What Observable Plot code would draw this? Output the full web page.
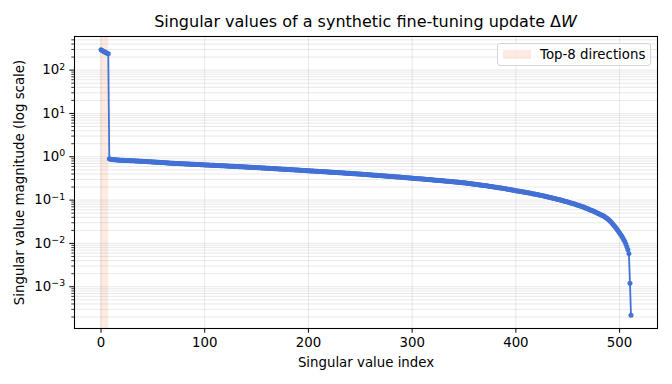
<!DOCTYPE html>
<html><head><meta charset="utf-8">
<script src="https://cdn.jsdelivr.net/npm/d3@7"></script>
<script src="https://cdn.jsdelivr.net/npm/@observablehq/plot@0.6"></script>
<style>
body{margin:0;background:#fff;font-family:"DejaVu Sans",sans-serif;}
#wrap{position:relative;width:672px;height:384px;overflow:hidden;}
#title{box-sizing:border-box;width:672px;height:30px;padding:14px 15px 0 74px;text-align:center;font-size:16px;line-height:16px;color:#000;white-space:nowrap;}
#legend{position:absolute;left:497px;top:43px;width:154px;height:23px;box-sizing:border-box;border:1px solid #d6d6d6;border-radius:3px;background:rgba(255,255,255,0.8);}
#legend .patch{position:absolute;left:5px;top:6px;width:28px;height:9px;}
#legend .lab{position:absolute;left:42px;top:0;line-height:21px;font-size:13.33px;color:#000;white-space:nowrap;}
</style></head>
<body>
<div id="wrap">
  <div id="title"></div>
  <div id="chart"></div>
  <div id="legend"><div class="patch"></div><div class="lab"></div></div>
</div>
<script>
// ---- data ----
const titleText = "Singular values of a synthetic fine-tuning update \u0394";
const titleItalic = "W";
const xLabel = "Singular value index";
const yLabel = "Singular value magnitude (log scale)";
const legendLabel = "Top-8 directions";
const topK = 8;
const xTickValues = [0, 100, 200, 300, 400, 500];
const yDecades = [-3, -2, -1, 0, 1, 2];

// singular value at index 0..511
const singularValues = [
  295, 283, 275, 266, 258, 251, 245, 238, 0.895, 0.880,
  0.870, 0.862, 0.857, 0.852, 0.848, 0.845, 0.842, 0.839, 0.836, 0.833,
  0.830, 0.828, 0.826, 0.824, 0.822, 0.820, 0.818, 0.816, 0.814, 0.812,
  0.810, 0.808, 0.806, 0.804, 0.801, 0.798, 0.796, 0.793, 0.790, 0.788,
  0.785, 0.782, 0.780, 0.777, 0.775, 0.772, 0.770, 0.767, 0.765, 0.762,
  0.760, 0.757, 0.755, 0.752, 0.749, 0.746, 0.744, 0.741, 0.738, 0.735,
  0.733, 0.730, 0.727, 0.724, 0.722, 0.719, 0.716, 0.713, 0.711, 0.708,
  0.705, 0.703, 0.700, 0.698, 0.696, 0.695, 0.693, 0.691, 0.689, 0.687,
  0.686, 0.684, 0.682, 0.680, 0.679, 0.677, 0.675, 0.673, 0.671, 0.670,
  0.668, 0.666, 0.664, 0.663, 0.661, 0.659, 0.657, 0.655, 0.654, 0.652,
  0.650, 0.648, 0.646, 0.645, 0.643, 0.641, 0.639, 0.638, 0.636, 0.634,
  0.632, 0.631, 0.629, 0.627, 0.625, 0.624, 0.622, 0.620, 0.618, 0.617,
  0.615, 0.613, 0.611, 0.610, 0.608, 0.606, 0.604, 0.603, 0.601, 0.599,
  0.597, 0.596, 0.594, 0.592, 0.590, 0.588, 0.587, 0.585, 0.583, 0.581,
  0.580, 0.578, 0.576, 0.574, 0.573, 0.571, 0.569, 0.567, 0.566, 0.564,
  0.562, 0.560, 0.559, 0.557, 0.555, 0.553, 0.552, 0.550, 0.548, 0.546,
  0.545, 0.543, 0.541, 0.539, 0.538, 0.536, 0.534, 0.532, 0.531, 0.529,
  0.527, 0.525, 0.524, 0.522, 0.520, 0.518, 0.517, 0.515, 0.513, 0.511,
  0.510, 0.508, 0.506, 0.504, 0.503, 0.501, 0.499, 0.497, 0.496, 0.494,
  0.492, 0.490, 0.489, 0.487, 0.485, 0.483, 0.482, 0.480, 0.478, 0.476,
  0.475, 0.473, 0.472, 0.470, 0.469, 0.467, 0.466, 0.464, 0.463, 0.461,
  0.460, 0.458, 0.456, 0.455, 0.453, 0.452, 0.450, 0.449, 0.447, 0.446,
  0.444, 0.442, 0.441, 0.439, 0.438, 0.436, 0.435, 0.433, 0.432, 0.430,
  0.429, 0.427, 0.425, 0.424, 0.422, 0.421, 0.419, 0.418, 0.416, 0.415,
  0.413, 0.411, 0.410, 0.408, 0.407, 0.405, 0.404, 0.402, 0.401, 0.399,
  0.398, 0.396, 0.394, 0.393, 0.391, 0.390, 0.388, 0.387, 0.385, 0.384,
  0.382, 0.380, 0.379, 0.377, 0.376, 0.374, 0.373, 0.371, 0.370, 0.368,
  0.367, 0.365, 0.363, 0.362, 0.360, 0.359, 0.357, 0.356, 0.354, 0.353,
  0.351, 0.349, 0.348, 0.346, 0.345, 0.343, 0.342, 0.340, 0.339, 0.337,
  0.336, 0.334, 0.332, 0.331, 0.329, 0.328, 0.326, 0.325, 0.323, 0.322,
  0.320, 0.319, 0.317, 0.316, 0.314, 0.313, 0.312, 0.310, 0.309, 0.307,
  0.306, 0.305, 0.303, 0.302, 0.300, 0.299, 0.298, 0.296, 0.295, 0.293,
  0.292, 0.291, 0.289, 0.288, 0.286, 0.285, 0.284, 0.282, 0.281, 0.279,
  0.278, 0.277, 0.275, 0.274, 0.272, 0.271, 0.270, 0.268, 0.267, 0.265,
  0.264, 0.263, 0.261, 0.260, 0.258, 0.257, 0.256, 0.254, 0.253, 0.251,
  0.250, 0.248, 0.247, 0.245, 0.243, 0.241, 0.240, 0.238, 0.236, 0.235,
  0.233, 0.231, 0.230, 0.228, 0.226, 0.224, 0.223, 0.221, 0.219, 0.218,
  0.216, 0.214, 0.213, 0.211, 0.209, 0.207, 0.206, 0.204, 0.202, 0.201,
  0.199, 0.197, 0.196, 0.194, 0.192, 0.190, 0.189, 0.187, 0.185, 0.184,
  0.182, 0.180, 0.179, 0.177, 0.175, 0.173, 0.172, 0.170, 0.168, 0.167,
  0.165, 0.163, 0.162, 0.160, 0.159, 0.157, 0.156, 0.154, 0.153, 0.151,
  0.150, 0.148, 0.147, 0.145, 0.144, 0.142, 0.141, 0.139, 0.138, 0.136,
  0.135, 0.133, 0.132, 0.130, 0.129, 0.127, 0.126, 0.124, 0.123, 0.121,
  0.120, 0.118, 0.117, 0.115, 0.114, 0.112, 0.111, 0.109, 0.108, 0.106,
  0.105, 0.103, 0.102, 0.100, 0.099, 0.097, 0.096, 0.094, 0.093, 0.091,
  0.090, 0.089, 0.087, 0.086, 0.084, 0.083, 0.082, 0.080, 0.079, 0.077,
  0.076, 0.075, 0.073, 0.072, 0.070, 0.069, 0.068, 0.066, 0.065, 0.063,
  0.062, 0.060, 0.059, 0.0577, 0.0564, 0.0551, 0.0538, 0.0525, 0.0512, 0.0499,
  0.0486, 0.0473, 0.0460, 0.0447, 0.0434, 0.0421, 0.0407, 0.0392, 0.0377, 0.0361,
  0.0344, 0.0326, 0.0308, 0.0289, 0.0271, 0.0253, 0.0236, 0.0220, 0.0204, 0.0189,
  0.0175, 0.0161, 0.0148, 0.0135, 0.0122, 0.0110, 0.0097, 0.0084, 0.0071, 0.0058,
  0.0012, 0.00022
];

// ---- styling ----
const lineColor = "#4371d5";
const spanColor = "#f07a3c";
const spanOpacity = 0.15;
const gridColor = "#b0b0b0";

// ---- build ----
const data = singularValues.map((s, i) => ({i, s}));
const spanData = [{x1: -0.5, x2: topK - 0.5}];

const n = singularValues.length;
const xPad = 0.05 * (n - 1);
const xDomain = [0 - xPad, (n - 1) + xPad];
const lmin = Math.log10(d3.min(singularValues));
const lmax = Math.log10(d3.max(singularValues));
const lPad = 0.05 * (lmax - lmin);
const yDomain = [Math.pow(10, lmin - lPad), Math.pow(10, lmax + lPad)];

const yMajors = yDecades.map(e => Math.pow(10, e));
const yMinors = [];
for (let e = -5; e <= 3; e++) for (let k = 2; k <= 9; k++) {
  const v = k * Math.pow(10, e);
  if (v >= yDomain[0] && v <= yDomain[1]) yMinors.push(v);
}
const yAllTicks = [...yMajors, ...yMinors];

document.getElementById("title").innerHTML = titleText + "<i>" + titleItalic + "</i>";
document.querySelector("#legend .lab").textContent = legendLabel;
const patch = document.querySelector("#legend .patch");
patch.style.background = spanColor;
patch.style.opacity = spanOpacity;

const svg = Plot.plot({
  width: 672,
  height: 354,
  marginTop: 6,
  marginBottom: 56,
  marginLeft: 74,
  marginRight: 15,
  style: {fontFamily: "DejaVu Sans", fontSize: "13.33px", color: "#000", background: "#fff", overflow: "visible"},
  x: {domain: xDomain},
  y: {type: "log", domain: yDomain},
  marks: [
    Plot.rect(spanData, {x1: "x1", x2: "x2", fill: spanColor, fillOpacity: spanOpacity}),
    Plot.gridY(yAllTicks, {stroke: gridColor, strokeOpacity: 0.35, strokeWidth: 0.8}),
    Plot.gridX(xTickValues, {stroke: gridColor, strokeOpacity: 0.35, strokeWidth: 0.8}),
    Plot.line(data, {x: "i", y: "s", stroke: lineColor, strokeWidth: 1.8}),
    Plot.dot(data, {x: "i", y: "s", r: 2.5, fill: lineColor, stroke: "none"}),
    Plot.frame({stroke: "#000", strokeWidth: 1.07}),
    Plot.axisX({ticks: xTickValues, tickSize: 4.7, tickPadding: 4.7, label: null, tickFormat: d3.format("d")}),
    Plot.axisY({ticks: yMajors, tickSize: 4.7, tickPadding: 4.7, label: null,
      tickFormat: d => "10^" + Math.round(Math.log10(d))}),
    Plot.axisY({ticks: yMinors, tickSize: 2.7, strokeWidth: 0.8, label: null, tickFormat: () => ""}),
    Plot.text([xLabel], {text: d => d, frameAnchor: "bottom", lineAnchor: "middle", textAnchor: "middle", dy: 34}),
    Plot.text([yLabel], {text: d => d, frameAnchor: "left", lineAnchor: "middle", textAnchor: "middle", rotate: -90, dx: -55})
  ]
});

d3.select(svg).selectAll('g[aria-label="y-axis tick label"] text').each(function () {
  const t = this.textContent;
  if (!t.includes("^")) return;
  const exp = t.split("^")[1].replace("-", "\u2212");
  const sel = d3.select(this);
  sel.text("10");
  sel.append("tspan").attr("dy", "-0.5em").attr("font-size", "0.7em").text(exp);
});

document.getElementById("chart").appendChild(svg);
</script>
</body></html>
